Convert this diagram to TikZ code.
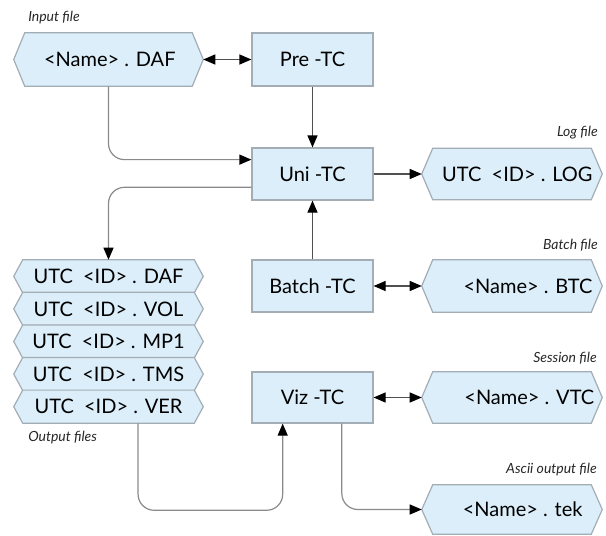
\documentclass[tikz,border=0pt]{standalone}
\usepackage{fontspec}
\setmainfont{Lato}
\usetikzlibrary{arrows.meta,calc}
\pgfdeclarelayer{hexbg}
\pgfsetlayers{hexbg,main}
\definecolor{boxfill}{HTML}{DCEEF9}
\definecolor{boxline}{HTML}{A3ADB5}
\definecolor{connA}{HTML}{505050}
\definecolor{connB}{HTML}{8A8A8A}
\newcommand\pxu{0.75pt}
\tikzset{
  procbox/.style={draw=boxline, fill=boxfill, line width=0.9pt, minimum width=121*\pxu, minimum height=52*\pxu, inner sep=0pt, font=\fontsize{15}{17}\selectfont},
  filebox/.style={inner sep=0pt, font=\fontsize{15}{17}\selectfont},
  hexline/.style={draw=boxline, fill=boxfill, line width=0.9pt},
  ftag/.style={font=\fontsize{10.5}{12}\selectfont\itshape, text=black!85, inner sep=0pt},
  tipA/.tip={Triangle[length=9pt,width=7.5pt,color=black]},
  conn/.style={draw=connA, line width=0.9pt},
  connb/.style={draw=connB, line width=0.9pt, rounded corners=12pt},
}
\newcommand\hexfile[6]{%
  \node[filebox, minimum width=#3*\pxu, minimum height=#4*\pxu] (#1) at (#2) {#6};
  \begin{pgfonlayer}{hexbg}
  \draw[hexline] (#1.west) -- ([xshift=#5*\pxu]#1.north west) -- ([xshift=-#5*\pxu]#1.north east) -- (#1.east) -- ([xshift=-#5*\pxu]#1.south east) -- ([xshift=#5*\pxu]#1.south west) -- cycle;
  \end{pgfonlayer}}
\begin{document}
\begin{tikzpicture}[x=0.75pt,y=-0.75pt]
\useasboundingbox (0,0) rectangle (606,535);
% process boxes
\node[procbox, minimum height=53*\pxu] (pre) at (312.5,59.5) {Pre -TC};
\node[procbox] (uni) at (312.5,174) {Uni -TC};
\node[procbox] (batch) at (312.5,286) {Batch -TC};
\node[procbox, minimum height=51*\pxu] (viz) at (312.5,397.5) {Viz -TC};
% file hexagons
\hexfile{daf}{108.5,59.5}{189}{53}{11}{\hspace*{2pt}<Name> . DAF}
\hexfile{log}{512,174}{180}{51}{11}{\hspace*{8pt}UTC\ \ <ID> . LOG}
\hexfile{btc}{512,286}{180}{52}{11}{\hspace*{24pt}<Name> . BTC}
\hexfile{vtc}{512,397.5}{180}{51}{11}{\hspace*{26pt}<Name> . VTC}
\hexfile{tek}{512,509.5}{180}{49}{11}{\hspace*{16pt}<Name> . tek}
\hexfile{o1}{108.5,276.3}{189}{32.6}{9}{UTC\ \ <ID> . DAF}
\hexfile{o2}{108.5,308.9}{189}{32.6}{9}{UTC\ \ <ID> . VOL}
\hexfile{o3}{108.5,341.5}{189}{32.6}{9}{UTC\ \ <ID> . MP1}
\hexfile{o4}{108.5,374.1}{189}{32.6}{9}{UTC\ \ <ID> . TMS}
\hexfile{o5}{108.5,406.7}{189}{32.6}{9}{UTC\ \ <ID> . VER}
% tags
\node[ftag, anchor=west] (tin) at (28,18) {Input file};
\node[ftag, anchor=east] (tlog) at (598,133) {Log file};
\node[ftag, anchor=east] (tbat) at (598,245) {Batch file};
\node[ftag, anchor=east] (tses) at (597,358) {Session file};
\node[ftag, anchor=east] (tasc) at (597,470) {Ascii output file};
\node[ftag, anchor=west] (tout) at (28,438) {Output files};
% connectors
\draw[conn, tipA-tipA] (daf.east) -- (pre.west);
\draw[conn, -tipA] (pre.south) -- (uni.north);
\draw[connb, -tipA] (daf.south) |- ($(uni.north west)!0.23!(uni.south west)$);
\draw[connb, -tipA] ($(uni.north west)!0.75!(uni.south west)$) -| (o1.north);
\draw[conn, -tipA] (uni.east) -- (log.west);
\draw[conn, -tipA] (batch.north) -- (uni.south);
\draw[conn, tipA-tipA] (batch.east) -- (btc.west);
\draw[conn, tipA-tipA] (viz.east) -- (vtc.west);
\draw[connb, -tipA] ($(viz.south west)!0.74!(viz.south east)$) |- (tek.west);
\draw[connb, -tipA] ($(o5.south west)!0.656!(o5.south east)$) -- ++(0,87) -| ($(viz.south west)!0.256!(viz.south east)$);
\end{tikzpicture}
\end{document}
